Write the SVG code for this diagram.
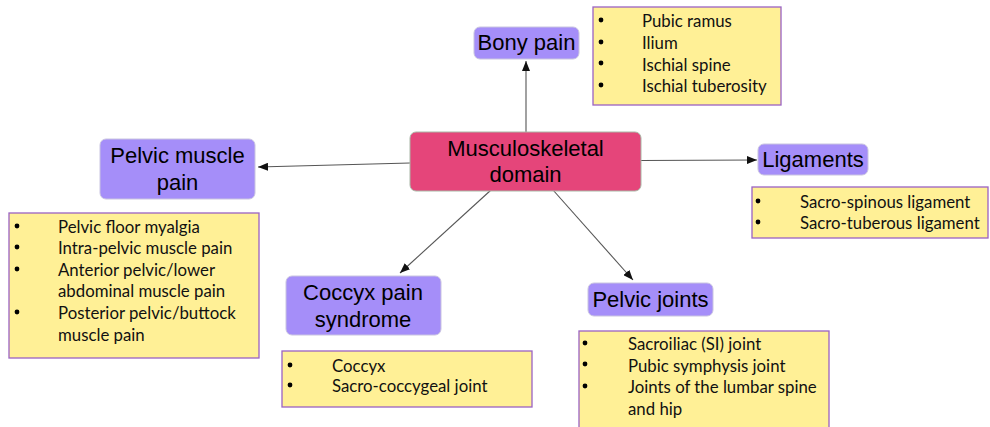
<svg xmlns="http://www.w3.org/2000/svg" width="990" height="427" viewBox="0 0 990 427">
<defs>
<marker id="arr" viewBox="0 0 10 8" refX="10" refY="4" markerWidth="10" markerHeight="8" markerUnits="userSpaceOnUse" orient="auto">
<path d="M0,0 L10,4 L0,8 Z" fill="#111"/>
</marker>
</defs>
<style>
.bg{fill:#fff}
.main{fill:#e5457a;stroke:#a9b7a6;stroke-width:1}
.node{fill:#a58ef9;stroke:#c9c4e0;stroke-width:1}
.list{fill:#fff096;stroke:#9a62c4;stroke-width:1.3}
.lbl{font-family:"Liberation Sans",Arial,sans-serif;font-size:22px;fill:#000;text-anchor:middle}
.item{font-family:Lato,"Open Sans",sans-serif;font-size:16.8px;fill:#111}
.bul{fill:#000}
.conn{stroke:#555;stroke-width:1.1;fill:none;marker-end:url(#arr)}
</style>
<rect class="bg" x="0" y="0" width="990" height="427"/>
<g id="connectors">
<line class="conn" x1="526" y1="132" x2="526" y2="61"/>
<line class="conn" x1="410" y1="163" x2="258" y2="167"/>
<line class="conn" x1="641" y1="160.5" x2="757" y2="160"/>
<line class="conn" x1="491" y1="190" x2="400" y2="273"/>
<line class="conn" x1="553" y1="190" x2="633" y2="280"/>
</g>
<g id="musculoskeletal">
<rect class="main" x="410" y="132" width="231" height="59" rx="6"/>
<text class="lbl" x="525.5" y="156">Musculoskeletal</text>
<text class="lbl" x="525.5" y="182">domain</text>
</g>
<g id="bony-pain">
<rect class="node" x="474" y="27" width="105" height="32" rx="6"/>
<text class="lbl" x="526.5" y="50">Bony pain</text>
</g>
<g id="bony-list">
<rect class="list" x="593" y="7" width="188" height="98"/>
<circle class="bul" cx="601" cy="20" r="2.4"/>
<circle class="bul" cx="601" cy="42" r="2.4"/>
<circle class="bul" cx="601" cy="63" r="2.4"/>
<circle class="bul" cx="601" cy="85" r="2.4"/>
<text class="item" x="642" y="27">Pubic ramus</text>
<text class="item" x="642" y="49">Ilium</text>
<text class="item" x="642" y="71">Ischial spine</text>
<text class="item" x="642" y="92">Ischial tuberosity</text>
</g>
<g id="pelvic-muscle-pain">
<rect class="node" x="100" y="139" width="155" height="60" rx="6"/>
<text class="lbl" x="177.5" y="163">Pelvic muscle</text>
<text class="lbl" x="177.5" y="190">pain</text>
</g>
<g id="pelvic-muscle-list">
<rect class="list" x="9" y="213" width="250" height="145"/>
<circle class="bul" cx="17" cy="226" r="2.4"/>
<circle class="bul" cx="17" cy="247" r="2.4"/>
<circle class="bul" cx="17" cy="269" r="2.4"/>
<circle class="bul" cx="17" cy="312" r="2.4"/>
<text class="item" x="58" y="233">Pelvic floor myalgia</text>
<text class="item" x="58" y="254">Intra-pelvic muscle pain</text>
<text class="item" x="58" y="276">Anterior pelvic/lower</text>
<text class="item" x="58" y="297">abdominal muscle pain</text>
<text class="item" x="58" y="319">Posterior pelvic/buttock</text>
<text class="item" x="58" y="341">muscle pain</text>
</g>
<g id="ligaments">
<rect class="node" x="758" y="144" width="110" height="31" rx="6"/>
<text class="lbl" x="813" y="167">Ligaments</text>
</g>
<g id="ligaments-list">
<rect class="list" x="752" y="187" width="236" height="51"/>
<circle class="bul" cx="758" cy="201" r="2.4"/>
<circle class="bul" cx="758" cy="222" r="2.4"/>
<text class="item" x="800" y="208">Sacro-spinous ligament</text>
<text class="item" x="800" y="229">Sacro-tuberous ligament</text>
</g>
<g id="coccyx-pain">
<rect class="node" x="286" y="276" width="155" height="59" rx="6"/>
<text class="lbl" x="363" y="300">Coccyx pain</text>
<text class="lbl" x="363" y="327">syndrome</text>
</g>
<g id="coccyx-list">
<rect class="list" x="282" y="351" width="250" height="56"/>
<circle class="bul" cx="290" cy="365" r="2.4"/>
<circle class="bul" cx="290" cy="385" r="2.4"/>
<text class="item" x="332" y="372">Coccyx</text>
<text class="item" x="332" y="392">Sacro-coccygeal joint</text>
</g>
<g id="pelvic-joints">
<rect class="node" x="588" y="283" width="125" height="33" rx="6"/>
<text class="lbl" x="650.5" y="307">Pelvic joints</text>
</g>
<g id="pelvic-joints-list">
<rect class="list" x="579" y="331" width="250" height="100"/>
<circle class="bul" cx="585" cy="343" r="2.4"/>
<circle class="bul" cx="585" cy="364" r="2.4"/>
<circle class="bul" cx="585" cy="386" r="2.4"/>
<text class="item" x="628" y="350">Sacroiliac (SI) joint</text>
<text class="item" x="628" y="372">Pubic symphysis joint</text>
<text class="item" x="628" y="393">Joints of the lumbar spine</text>
<text class="item" x="628" y="415">and hip</text>
</g>
</svg>
